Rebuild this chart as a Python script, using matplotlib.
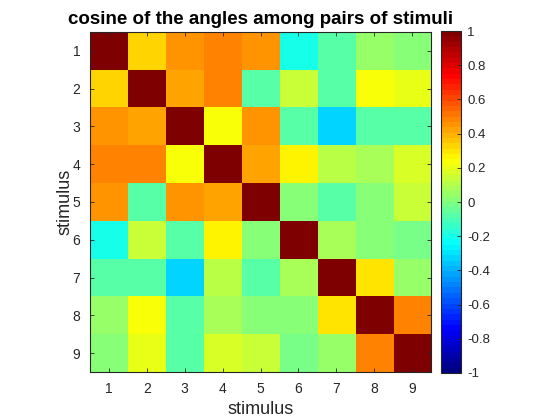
import numpy as np
import matplotlib

matplotlib.use("Agg")
import matplotlib.pyplot as plt
from matplotlib.colors import LinearSegmentedColormap

plt.rcParams["font.family"] = ["Liberation Sans", "DejaVu Sans"]

stimuli = [1, 2, 3, 4, 5, 6, 7, 8, 9]

# upper triangle of the cosine matrix, row by row (diagonal = 1)
row1 = [1.00, 0.33, 0.46, 0.49, 0.45, -0.19, -0.07, 0.05, 0.015]
row2 = [1.00, 0.41, 0.49, -0.065, 0.14, -0.075, 0.245, 0.20]
row3 = [1.00, 0.22, 0.46, -0.09, -0.34, -0.075, -0.09]
row4 = [1.00, 0.41, 0.25, 0.10, 0.08, 0.18]
row5 = [1.00, 0.005, -0.075, 0.015, 0.14]
row6 = [1.00, 0.07, 0.005, -0.005]
row7 = [1.00, 0.30, 0.05]
row8 = [1.00, 0.49]
row9 = [1.00]

rows = [row1, row2, row3, row4, row5, row6, row7, row8, row9]
n = len(stimuli)
cosines = np.zeros((n, n))
for i, vals in enumerate(rows):
    cosines[i, i:] = vals
    cosines[i:, i] = vals

# MATLAB style jet, 64 levels
jet64 = LinearSegmentedColormap(
    "matlab_jet",
    {
        "red": [(0, 0, 0), (3 / 8, 0, 0), (5 / 8, 1, 1), (7 / 8, 1, 1), (1, 0.5, 0.5)],
        "green": [(0, 0, 0), (1 / 8, 0, 0), (3 / 8, 1, 1), (5 / 8, 1, 1), (7 / 8, 0, 0), (1, 0, 0)],
        "blue": [(0, 0.5, 0.5), (1 / 8, 1, 1), (3 / 8, 1, 1), (5 / 8, 0, 0), (1, 0, 0)],
    },
    N=64,
)

fig = plt.figure(figsize=(5.6, 4.2), dpi=100)
ax = fig.add_axes([0.1607, 0.1143, 0.609, 0.8095])
cax = fig.add_axes([0.7875, 0.112, 0.0366, 0.814])

im = ax.imshow(
    cosines,
    cmap=jet64,
    vmin=-1,
    vmax=1,
    aspect="auto",
    interpolation="nearest",
    extent=[0.5, n + 0.5, n + 0.5, 0.5],
)

grey = "#262626"
ax.set_xticks(stimuli)
ax.set_yticks(stimuli)
ax.tick_params(
    direction="in", top=True, right=True, length=3, width=0.6,
    colors=grey, labelsize=10, pad=7,
)
ax.set_xlabel("stimulus", fontsize=13, color=grey, labelpad=4)
ax.set_ylabel("stimulus", fontsize=13, color=grey, labelpad=-1)
ax.set_title("cosine of the angles among pairs of stimuli", fontsize=13.5, fontweight="bold", pad=6)
for spine in ax.spines.values():
    spine.set_color(grey)
    spine.set_linewidth(0.8)

cb = fig.colorbar(im, cax=cax)
cb.set_ticks(np.linspace(-1, 1, 11))
cb.set_ticklabels(["-1", "-0.8", "-0.6", "-0.4", "-0.2", "0", "0.2", "0.4", "0.6", "0.8", "1"])
cax.tick_params(direction="in", length=3, width=0.6, colors=grey, labelsize=9.5, pad=4)
cb.outline.set_edgecolor(grey)
cb.outline.set_linewidth(0.8)

fig.savefig("out.png", dpi=100)
